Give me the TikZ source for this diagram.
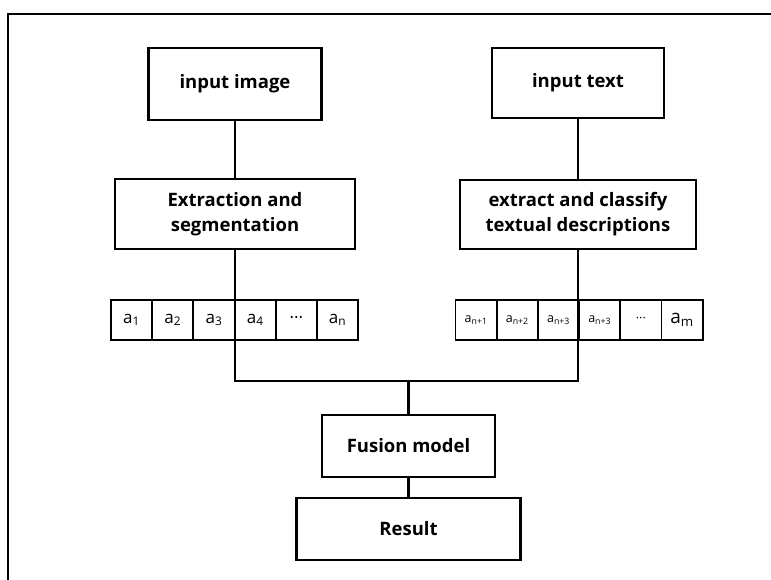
\documentclass[tikz,border=0pt]{standalone}
\usepackage{fontspec}
\setmainfont{Open Sans}
\usetikzlibrary{positioning}

\begin{document}
\begin{tikzpicture}[x=1pt, y=-1pt,
    box/.style={rectangle, draw, line width=2.2pt, align=center, inner sep=0pt,
        font=\fontsize{18.5}{25}\selectfont\bfseries},
    cell/.style={rectangle, draw, line width=1.8pt, minimum width=41.3pt,
        minimum height=40pt, inner sep=0pt, font=\fontsize{17}{20}\selectfont},
    link/.style={line width=2.2pt}
]
    \useasboundingbox (0,0) rectangle (771,579);
    \draw[line width=2.2pt] (775,14) -- (8,14) -- (8,583);

    % top row
    \node[box, minimum width=173pt, minimum height=72pt] (inimg) at (235,84) {input image};
    \node[box, minimum width=172pt, minimum height=70pt] (intxt) at (578,83) {input text};

    % processing
    \node[box, minimum width=240pt, minimum height=70pt] (extr) at (235,214) {Extraction and\\segmentation};
    \node[box, minimum width=236pt, minimum height=69pt] (clsf) at (578,214.5) {extract and classify\\textual descriptions};

    % feature cells
    \foreach \t [count=\i] in {a\textsubscript{1}, a\textsubscript{2}, a\textsubscript{3},
        a\textsubscript{4}, ···, a\textsubscript{n}}
        \node[cell] (l\i) at ({111+41.2*(\i-0.5)},320) {\t};
    \foreach \t [count=\i] in {a\textsubscript{n+1}, a\textsubscript{n+2}, a\textsubscript{n+3},
        a\textsubscript{n+3}, ···}
        \node[cell, font=\fontsize{12.5}{15}\selectfont] (r\i) at ({455.5+41.2*(\i-0.5)},320) {\t};
    \node[cell, font=\fontsize{19}{22}\selectfont] (r6) at ({455.5+41.2*5.5},320) {a\textsubscript{m}};

    % fusion
    \node[box, minimum width=173pt, minimum height=62pt] (fus) at (408.5,446) {Fusion model};
    \node[box, minimum width=224pt, minimum height=62pt] (res) at (408.5,529) {Result};

    \coordinate (hj) at (408.5,381);

    \draw[link] (inimg) -- (extr);
    \draw[link] (intxt) -- (clsf);
    \draw[link] (extr.south) -- (extr.south |- hj) -- (clsf.south |- hj) -- (clsf.south);
    \draw[link] (hj) -- (fus);
    \draw[link] (fus) -- (res);
\end{tikzpicture}
\end{document}
